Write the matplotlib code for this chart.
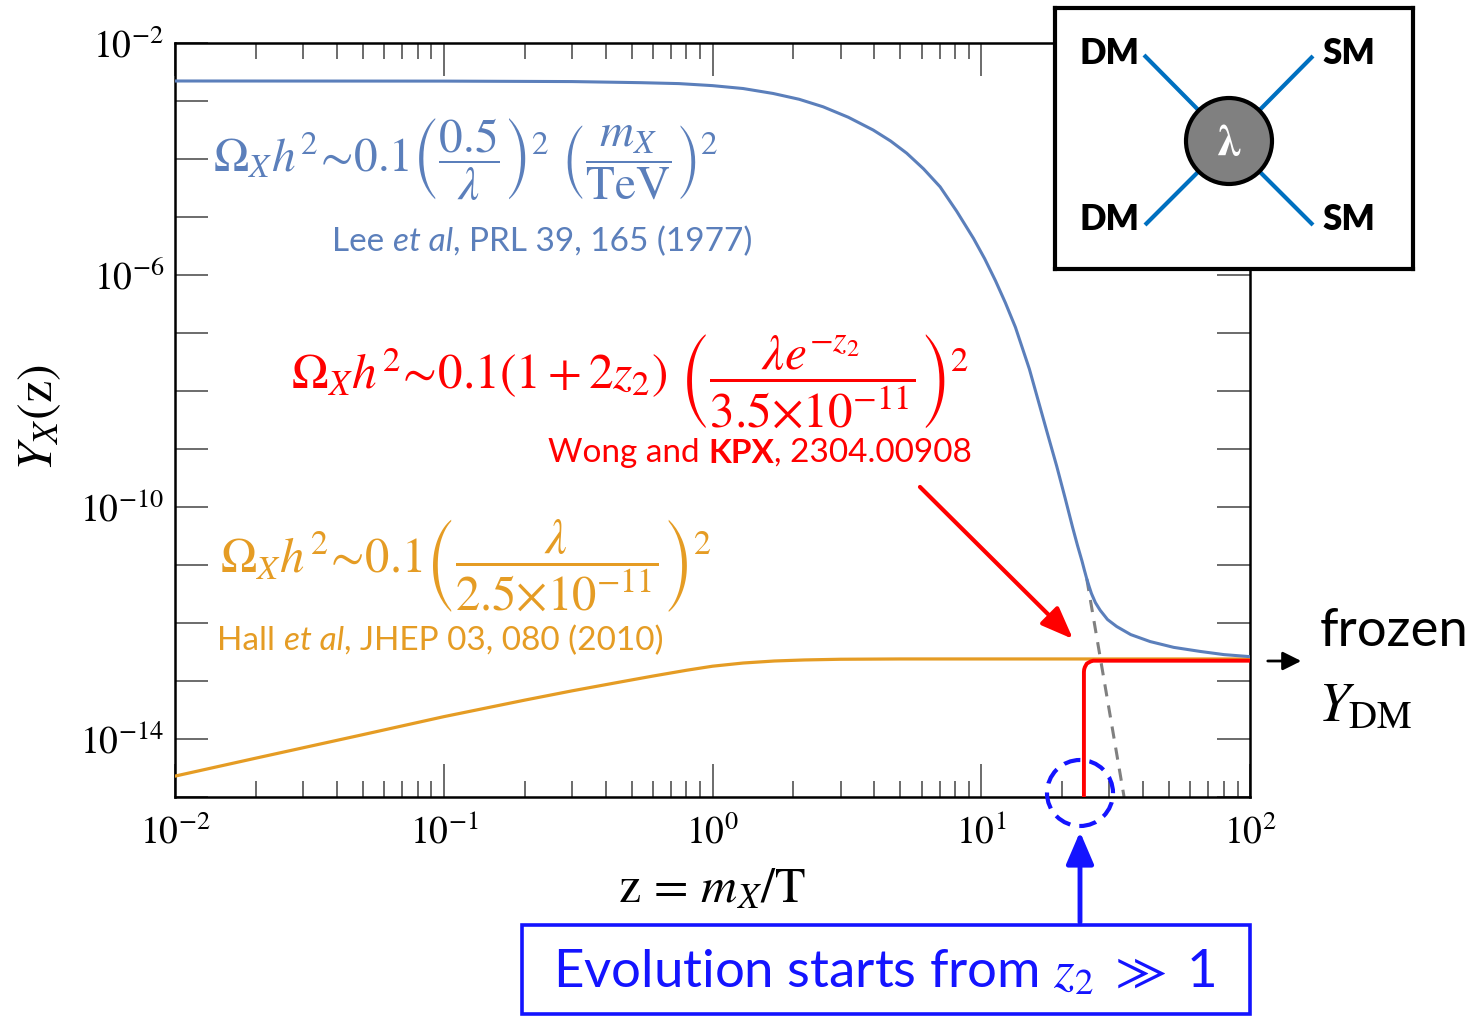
import matplotlib
matplotlib.use("Agg")
import matplotlib.pyplot as plt
import numpy as np
from matplotlib.patches import Rectangle, Circle, FancyArrowPatch, Ellipse

plt.rcParams['mathtext.fontset'] = 'stix'
plt.rcParams['font.family'] = ['Lato', 'DejaVu Sans']

# curves (log10 of Y)
z_blue = [0.01, 0.1, 0.3, 0.54, 0.75, 1.0, 1.3, 1.68, 2.1, 2.58, 3.2, 3.96, 4.6, 5.28,
          6.1, 7.03, 8.1, 9.36, 10.3, 11.3, 12.3, 13.4, 15.1, 16.1, 17.6, 19.1, 20.5,
          21.9, 22.8, 23.7, 24.2, 24.7, 25.2, 25.7, 26.6, 27.7, 29.5, 31.9, 36, 42.5, 52,
          65.2, 80, 100]
logy_blue = [-2.655, -2.657, -2.665, -2.684, -2.70, -2.735, -2.785, -2.87, -2.97, -3.10,
             -3.28, -3.50, -3.69, -3.90, -4.17, -4.48, -4.90, -5.37, -5.72, -6.10, -6.48,
             -6.90, -7.62, -8.08, -8.72, -9.30, -9.84, -10.36, -10.66, -10.93, -11.09,
             -11.24, -11.37, -11.49, -11.65, -11.78, -11.94, -12.06, -12.2, -12.32,
             -12.42, -12.49, -12.545, -12.58]

z_orange = [0.01, 0.02, 0.05, 0.1, 0.2, 0.3, 0.45, 0.6, 0.8, 1.0, 1.3, 1.7, 2.2, 3, 5,
            10, 100]
logy_orange = [-14.64, -14.33, -13.925, -13.615, -13.33, -13.17, -13.02, -12.915, -12.815,
               -12.745, -12.69, -12.655, -12.637, -12.625, -12.62, -12.62, -12.62]

z_red = [24.1, 24.1, 24.15, 24.3, 24.7, 25.5, 26.1, 30, 50, 100]
logy_red = [-16, -12.845, -12.80, -12.76, -12.70, -12.664, -12.65, -12.65, -12.65, -12.65]

z_eq = [24.7, 34.0]
logy_eq = [-11.24, -15.0]

yticks = [1e-15, 1e-14, 1e-13, 1e-12, 1e-11, 1e-10, 1e-9, 1e-8, 1e-7, 1e-6,
          1e-5, 1e-4, 1e-3, 1e-2]
ylabels = ['', r'$10^{-14}$', '', '', '', r'$10^{-10}$', '', '', '', r'$10^{-6}$',
           '', '', '', r'$10^{-2}$']
xticks = [1e-2, 1e-1, 1e0, 1e1, 1e2]
xlabels = [r'$10^{-2}$', r'$10^{-1}$', r'$10^{0}$', r'$10^{1}$', r'$10^{2}$']

BLUE = '#5b7fbb'
ORANGE = '#e59c24'
RED = '#ff0000'
VIVID = '#1414ff'

W, H = 1483, 1016
fig = plt.figure(figsize=(W / 100, H / 100), dpi=100)


def fx(px):
    return px / W


def fy(py):
    return 1 - py / H


ax = fig.add_axes([fx(175), fy(797), fx(1250) - fx(175), fy(43) - fy(797)])
ax.set_xscale('log')
ax.set_yscale('log')

ax.plot(z_orange, 10 ** np.array(logy_orange), color=ORANGE, lw=2.3, zorder=3)
ax.plot(z_eq, 10 ** np.array(logy_eq), color='#808080', lw=2.2, ls=(0, (4, 3)), zorder=2)
ax.plot(z_blue, 10 ** np.array(logy_blue), color=BLUE, lw=2.2, zorder=4)
ax.plot(z_red, 10 ** np.array(logy_red), color=RED, lw=2.8, zorder=5)

ax.set_xlim(1e-2, 1e2)
ax.set_ylim(1e-15, 1e-2)
ax.set_yticks(yticks, ylabels)
ax.yaxis.set_minor_locator(matplotlib.ticker.NullLocator())
ax.set_xticks(xticks, xlabels)
ax.xaxis.set_minor_locator(matplotlib.ticker.LogLocator(base=10, subs=np.arange(2, 10)))
ax.xaxis.set_minor_formatter(matplotlib.ticker.NullFormatter())
ax.tick_params(which='major', direction='in', length=24, width=1.1, color='#444444',
               top=True, right=True, labelsize=27)
ax.tick_params(which='minor', direction='in', length=11.5, width=1.1, color='#444444',
               top=True, right=True)
ax.tick_params(axis='x', pad=12)
ax.tick_params(axis='y', pad=8)
for s in ax.spines.values():
    s.set_linewidth(1.8)

# axis labels
fig.text(fx(40), fy(418), r'$Y_X(\mathrm{z})$', rotation=90, ha='center', va='center',
         fontsize=36)
fig.text(fx(712), fy(888), r'$\mathrm{z}\,=\,m_X/\mathrm{T}$', ha='center', va='center',
         fontsize=36)


def rainbow(x, y, pieces, color, size):
    t = fig.text(x, y, pieces[0][0], color=color, fontsize=size, va='center',
                 fontstyle=pieces[0][1], fontweight=pieces[0][2])
    for s, st, wt in pieces[1:]:
        t = ax.annotate(s, xy=(1, 0), xycoords=t, va='bottom', ha='left', color=color,
                        fontsize=size, fontstyle=st, fontweight=wt,
                        annotation_clip=False)
    return t


# formulas and references
fig.text(fx(213), fy(160),
         r'$\Omega_X h^2\!\sim\!0.1\left(\dfrac{0.5}{\lambda}\right)^2\ \left(\dfrac{m_X}{\mathrm{TeV}}\right)^2$',
         color=BLUE, fontsize=34, va='center')
rainbow(fx(332), fy(242), [('Lee ', 'normal', 'normal'), ('et al', 'italic', 'normal'),
                           (', PRL 39, 165 (1977)', 'normal', 'normal')], BLUE, 24)

fig.text(fx(291), fy(381),
         r'$\Omega_X h^2\!\sim\!0.1(1+2z_2)\ \left(\dfrac{\lambda e^{-z_2}}{3.5{\times}10^{-11}}\right)^2$',
         color=RED, fontsize=35.5, va='center')
rainbow(fx(548), fy(453), [('Wong and ', 'normal', 'normal'), ('KPX', 'normal', 'bold'),
                           (', 2304.00908', 'normal', 'normal')], RED, 24)

fig.text(fx(220), fy(566),
         r'$\Omega_X h^2\!\sim\!0.1\left(\dfrac{\lambda}{2.5{\times}10^{-11}}\right)^2$',
         color=ORANGE, fontsize=35, va='center')
rainbow(fx(217), fy(641), [('Hall ', 'normal', 'normal'), ('et al', 'italic', 'normal'),
                           (', JHEP 03, 080 (2010)', 'normal', 'normal')], ORANGE, 24)

# red arrow towards the red curve
fig.add_artist(FancyArrowPatch(
    (fx(918), fy(485)), (fx(1075), fy(641)), transform=fig.transFigure,
    arrowstyle='-|>,head_length=14,head_width=5.5', color=RED, lw=3, mutation_scale=1.4))

# frozen Y_DM
fig.add_artist(FancyArrowPatch(
    (fx(1265), fy(661)), (fx(1304), fy(661)), transform=fig.transFigure,
    arrowstyle='-|>,head_length=8,head_width=4', color='black', lw=2, mutation_scale=1.4))
fig.text(fx(1320), fy(632), 'frozen', fontsize=38, va='center', ha='left')
fig.text(fx(1318), fy(706), r'$Y_{\mathrm{DM}}$', fontsize=40, va='center', ha='left')

# dashed circle, arrow and box at the bottom
fig.add_artist(Ellipse((fx(1080), fy(793)), 2 * 33 / W, 2 * 33 / H,
                       transform=fig.transFigure, fill=False,
                       ec=VIVID, lw=3, ls=(0, (4, 2.2))))
fig.add_artist(FancyArrowPatch(
    (fx(1080), fy(925)), (fx(1080), fy(829)), transform=fig.transFigure,
    arrowstyle='-|>,head_length=14,head_width=6', color=VIVID, lw=3.5, mutation_scale=1.4))
fig.add_artist(Rectangle((fx(522), fy(1014)), fx(1250) - fx(522), fy(925) - fy(1014),
                         transform=fig.transFigure, fill=False, ec=VIVID, lw=2.6))
fig.text(fx(884), fy(972), r'Evolution starts from $z_2$ $\gg$ 1', color=VIVID,
         fontsize=38, ha='center', va='center')

# inset diagram
ins = fig.add_axes([fx(1055), fy(269), fx(1413) - fx(1055), fy(8) - fy(269)])
ins.set_xlim(1055, 1413)
ins.set_ylim(269, 8)
ins.set_xticks([])
ins.set_yticks([])
for s in ins.spines.values():
    s.set_linewidth(3)
cx, cy = 1229, 141
for ex, ey in [(1144, 55), (1313, 56), (1145, 225), (1313, 225)]:
    ins.plot([ex, cx], [ey, cy], color='#0070c0', lw=3, solid_capstyle='butt')
ins.add_patch(Circle((cx, cy), 43, fc='#808080', ec='black', lw=3, zorder=5))
ins.text(cx, cy + 2, r'$\boldsymbol{\lambda}$', color='white', fontsize=32, ha='center',
         va='center', zorder=6)
for tx, ty, lab in [(1109, 53, 'DM'), (1349, 53, 'SM'), (1109, 220, 'DM'), (1349, 220, 'SM')]:
    ins.text(tx, ty, lab, fontsize=25, fontweight='heavy', ha='center', va='center')

fig.savefig('out.png', dpi=100)
